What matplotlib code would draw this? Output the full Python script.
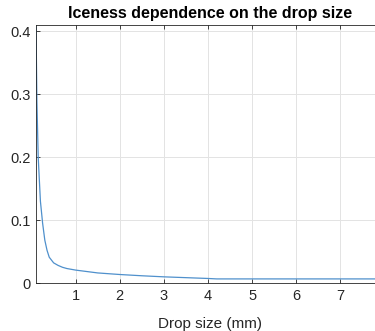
import matplotlib
matplotlib.use("Agg")
import matplotlib.pyplot as plt

# dados
tamanho_gota = [0.1, 0.12, 0.15, 0.2, 0.25, 0.3, 0.35, 0.4, 0.5, 0.6, 0.7, 0.8,
                1.0, 1.5, 2.0, 2.5, 3.0, 3.5, 4.0, 4.2, 5.0, 6.0, 7.0, 8.0]
iceness = [0.41, 0.29, 0.2, 0.13, 0.095, 0.068, 0.052, 0.041, 0.032, 0.028, 0.025, 0.023,
           0.0205, 0.016, 0.0135, 0.0115, 0.0098, 0.0085, 0.0072, 0.0065, 0.0065, 0.0065, 0.0065, 0.0065]
xticks = [1, 2, 3, 4, 5, 6, 7]
yticks = [0, 0.1, 0.2, 0.3, 0.4]

plt.rcParams['font.family'] = ['Liberation Sans', 'DejaVu Sans']

fig = plt.figure(figsize=(3.75, 3.31), dpi=100)
ax = fig.add_axes([0.096, 0.145, 0.929, 0.7795])

ax.plot(tamanho_gota, iceness, color="#4f90cc", linewidth=0.9)

ax.set_xlim(0.1, 8)
ax.set_ylim(0, 0.41)
ax.set_xticks(xticks)
ax.set_yticks(yticks)
ax.set_yticklabels(["0", "0.1", "0.2", "0.3", "0.4"])

ax.grid(True, color="#e3e3e3", linewidth=0.7)
ax.set_axisbelow(True)
for s in ax.spines.values():
    s.set_color("#262626")
    s.set_linewidth(0.6)
ax.tick_params(direction="in", length=3, width=0.6, colors="#262626",
               labelsize=10.5, top=True, right=True, pad=4)

ax.set_title("Iceness dependence on the drop size", fontsize=11.5, fontweight="bold", pad=5)
ax.set_xlabel("Drop size (mm)", fontsize=11, color="#262626", labelpad=10.5)

fig.savefig("out.png", dpi=100)
